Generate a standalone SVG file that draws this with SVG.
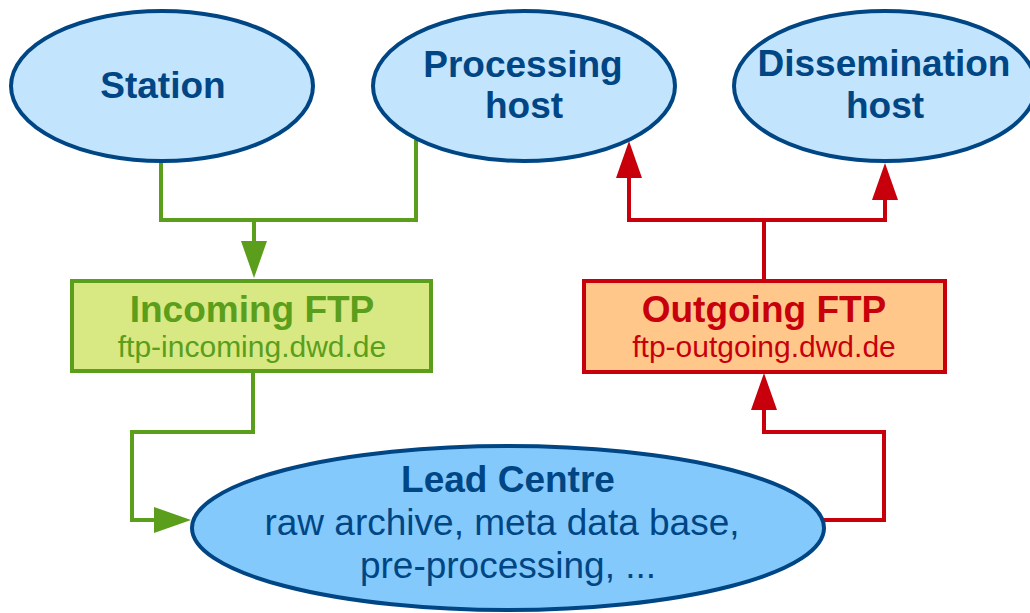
<svg xmlns="http://www.w3.org/2000/svg" width="1030" height="613" viewBox="0 0 1030 613">
<style>
.host{fill:#c2e4fc;stroke:#004684;stroke-width:4}
.lead{fill:#84c9fc;stroke:#004684;stroke-width:4}
.t{font-family:"Liberation Sans",Arial,sans-serif;text-anchor:middle}
.b{font-weight:bold;font-size:37px}
.blue{fill:#004684}
.green{fill:#5a9e1c}
.red{fill:#c8000c}
.g{fill:none;stroke:#5a9e1c;stroke-width:4;stroke-linejoin:miter}
.r{fill:none;stroke:#c8000c;stroke-width:4;stroke-linejoin:miter}
</style>
<defs>
<marker id="ag" markerUnits="userSpaceOnUse" viewBox="0 0 37 26" markerWidth="37" markerHeight="26" refX="0" refY="13" orient="auto"><path d="M0,0 L37,13 L0,26 z" fill="#5a9e1c"/></marker>
<marker id="ar" markerUnits="userSpaceOnUse" viewBox="0 0 37 26" markerWidth="37" markerHeight="26" refX="0" refY="13" orient="auto"><path d="M0,0 L37,13 L0,26 z" fill="#c8000c"/></marker>
</defs>
<g id="connectors">
<path class="g" d="M161,162 V220 H416 V140"/>
<path class="g" d="M254,220 V241" marker-end="url(#ag)"/>
<path class="g" d="M253,373 V432 H132 V520 H154" marker-end="url(#ag)"/>
<path class="r" d="M764,279 V220"/>
<path class="r" d="M764,220 H629 V178" marker-end="url(#ar)"/>
<path class="r" d="M764,220 H885 V200" marker-end="url(#ar)"/>
<path class="r" d="M824,520 H884 V432 H764 V410" marker-end="url(#ar)"/>
</g>
<g id="station">
<ellipse class="host" cx="162" cy="86" rx="151" ry="75"/>
<text class="t b blue" x="163" y="98">Station</text>
</g>
<g id="processing-host">
<ellipse class="host" cx="524" cy="86" rx="151" ry="75"/>
<text class="t b blue" x="523" y="77">Processing</text>
<text class="t b blue" x="524" y="118">host</text>
</g>
<g id="dissemination-host">
<ellipse class="host" cx="885" cy="86" rx="151" ry="75"/>
<text class="t b blue" x="884" y="76">Dissemination</text>
<text class="t b blue" x="885" y="118">host</text>
</g>
<g id="incoming-ftp">
<rect x="72" y="281" width="359" height="90" fill="#d8e882" stroke="#5a9e1c" stroke-width="4"/>
<text class="t b green" x="252" y="322">Incoming FTP</text>
<text class="t green" x="252" y="357" font-size="30">ftp-incoming.dwd.de</text>
</g>
<g id="outgoing-ftp">
<rect x="584" y="281" width="361" height="91" fill="#ffc88a" stroke="#c8000c" stroke-width="4"/>
<text class="t b red" x="764" y="322">Outgoing FTP</text>
<text class="t red" x="764" y="357" font-size="30">ftp-outgoing.dwd.de</text>
</g>
<g id="lead-centre">
<ellipse class="lead" cx="508" cy="528" rx="316" ry="82"/>
<text class="t b blue" x="508" y="492">Lead Centre</text>
<text class="t blue" x="502" y="535" font-size="37">raw archive, meta data base,</text>
<text class="t blue" x="508" y="578" font-size="37">pre-processing, ...</text>
</g>
</svg>
